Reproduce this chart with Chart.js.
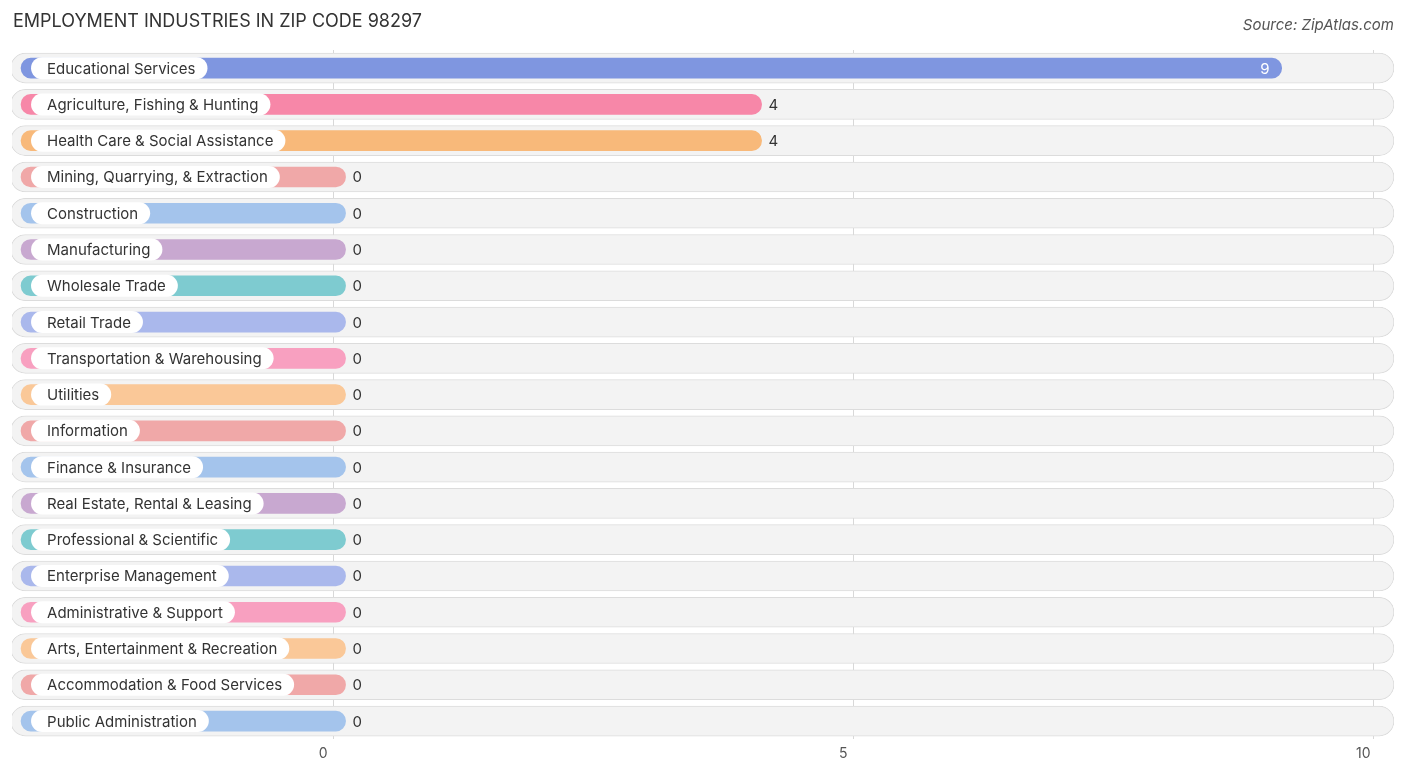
<!DOCTYPE html>
<html>
<head>
<meta charset="utf-8">
<script src="https://cdn.jsdelivr.net/npm/chart.js@4"></script>
<style>
  body { margin: 0; background: #fff; font-family: Inter, 'Noto Sans', sans-serif; }
  #wrap { position: relative; width: 1406px; height: 776px; }
  #title { position: absolute; left: 13px; top: 10px; font-size: 18px; color: #333; }
  #source { position: absolute; right: 12px; top: 15px; font-size: 15px; color: #555; font-style: italic; }
</style>
</head>
<body>
<div id="wrap">
  <div id="title">EMPLOYMENT INDUSTRIES IN ZIP CODE 98297</div>
  <div id="source">Source: ZipAtlas.com</div>
  <canvas id="chart" width="1406" height="776"></canvas>
</div>
<script>
const industries = [
  'Educational Services', 'Agriculture, Fishing & Hunting', 'Health Care & Social Assistance',
  'Mining, Quarrying, & Extraction', 'Construction', 'Manufacturing', 'Wholesale Trade',
  'Retail Trade', 'Transportation & Warehousing', 'Utilities', 'Information',
  'Finance & Insurance', 'Real Estate, Rental & Leasing', 'Professional & Scientific',
  'Enterprise Management', 'Administrative & Support', 'Arts, Entertainment & Recreation',
  'Accommodation & Food Services', 'Public Administration'
];
const values = [9, 4, 4, 0, 0, 0, 0, 0, 0, 0, 0, 0, 0, 0, 0, 0, 0, 0, 0];
const colors = [
  '#7f96e0', '#f787a8', '#f8b97a', '#f0a8a8', '#a4c4ec', '#c8a8d0', '#7ecbd0',
  '#aab8ec', '#f8a0c0', '#fac898', '#f0a8a8', '#a4c4ec', '#c8a8d0', '#7ecbd0',
  '#aab8ec', '#f8a0c0', '#fac898', '#f0a8a8', '#a4c4ec'
];
const xTicks = [0, 5, 10];

//bars start left of zero so the label pill fits
const barStart = -3.0;
const barCap = 0.12;

const labelPlugin = {
  id: 'labels',
  afterDatasetsDraw(chart) {
    const ctx = chart.ctx;
    const xs = chart.scales.x;
    const meta = chart.getDatasetMeta(1);
    const left = xs.getPixelForValue(barStart);
    ctx.save();
    ctx.font = '15px Inter, "Noto Sans", sans-serif';
    ctx.textBaseline = 'middle';
    meta.data.forEach((bar, i) => {
      const y = bar.y;
      const end = xs.getPixelForValue(values[i] + barCap);
      const w = ctx.measureText(industries[i]).width;
      ctx.fillStyle = '#fff';
      ctx.beginPath();
      ctx.roundRect(left + 10, y - 11, w + 28, 22, 11);
      ctx.fill();
      ctx.fillStyle = '#333';
      ctx.textAlign = 'left';
      ctx.fillText(industries[i], left + 26, y + 1);
      if (values[i] >= 8) {
        ctx.fillStyle = '#fff';
        ctx.textAlign = 'right';
        ctx.fillText(values[i], end - 12, y + 1);
      } else {
        ctx.fillStyle = '#333';
        ctx.textAlign = 'left';
        ctx.fillText(values[i], end + 7, y + 1);
      }
    });
    ctx.restore();
  }
};

new Chart(document.getElementById('chart'), {
  type: 'bar',
  data: {
    labels: industries,
    datasets: [
      {
        data: industries.map(() => [-3.1, 10.2]),
        backgroundColor: '#f3f3f3',
        borderColor: '#dcdcdc',
        borderWidth: 1,
        borderSkipped: false,
        borderRadius: 15,
        barThickness: 30,
        grouped: false,
        order: 2
      },
      {
        data: values.map((v) => [barStart, v + barCap]),
        backgroundColor: colors,
        borderSkipped: false,
        borderRadius: 10,
        barThickness: 20,
        grouped: false,
        order: 1
      }
    ]
  },
  options: {
    indexAxis: 'y',
    responsive: false,
    animation: false,
    layout: { padding: { left: 12, right: 12, top: 50, bottom: 8 } },
    plugins: { legend: { display: false }, tooltip: { enabled: false } },
    scales: {
      y: { display: false },
      x: {
        min: -3.087,
        max: 10.2,
        afterBuildTicks: (axis) => {
          axis.ticks = xTicks.map((v) => ({ value: v }));
        },
        grid: { color: '#d8d8d8', drawTicks: false },
        border: { display: false },
        ticks: {
          color: '#555',
          font: { size: 14, family: 'Inter, "Noto Sans", sans-serif' },
          labelOffset: -10,
          padding: 6
        }
      }
    }
  },
  plugins: [labelPlugin]
});
</script>
</body>
</html>
